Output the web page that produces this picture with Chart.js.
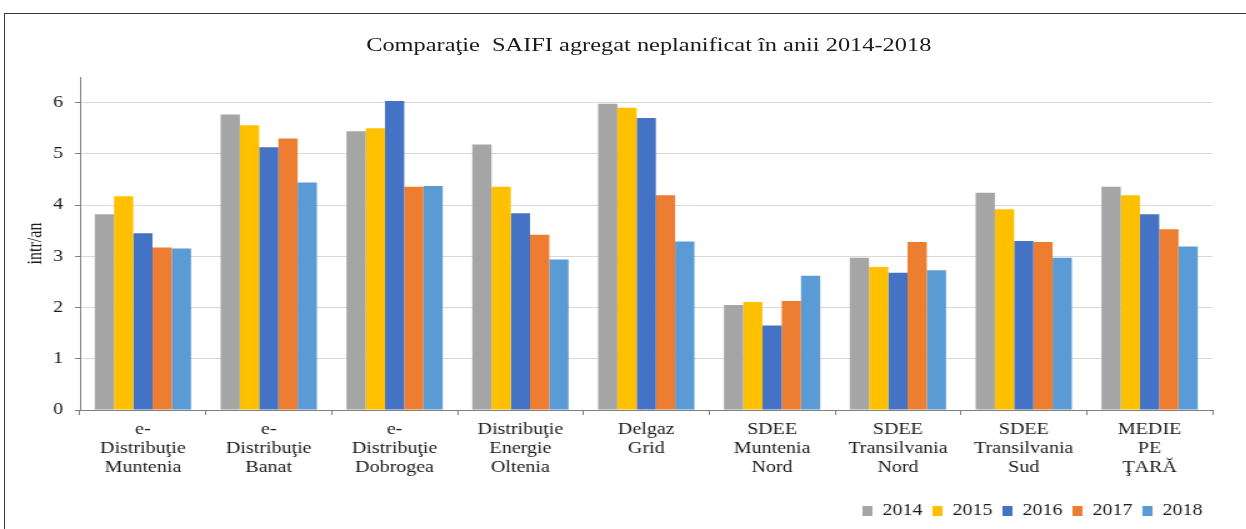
<!DOCTYPE html>
<html>
<head>
<meta charset="utf-8">
<script src="https://cdn.jsdelivr.net/npm/chart.js@4.4.1/dist/chart.umd.min.js"></script>
<style>
  html, body { margin: 0; padding: 0; background: #fff; overflow: hidden; }
  .wrap { position: relative; width: 1246px; height: 529px; overflow: hidden; }
  .frame { position: absolute; left: 4px; top: 13px; width: 1300px; height: 600px;
           border-left: 1px solid #3a3a3a; border-top: 1px solid #3a3a3a; }
  /* the source picture is stretched sideways, so draw narrow and scale out */
  .stretch { position: absolute; left: 0; top: 0; width: 997px; height: 529px;
             transform: scaleX(1.25); transform-origin: 0 0; }
  .title { position: absolute; left: 0; width: 1038px; top: 35px; text-align: center;
           font: 19.5px/1 "Liberation Serif", "Times New Roman", serif; color: #1a1a1a;
           white-space: pre; }
  canvas { position: absolute; left: 0; top: 0; }
</style>
</head>
<body>
<div class="wrap">
  <div class="frame"></div>
  <div class="stretch">
    <div class="title">Comparaţie  SAIFI agregat neplanificat în anii 2014-2018</div>
    <canvas id="chart" width="997" height="529"></canvas>
  </div>
</div>
<script>
const categories = [
  ['e-', 'Distribuţie', 'Muntenia'],
  ['e-', 'Distribuţie', 'Banat'],
  ['e-', 'Distribuţie', 'Dobrogea'],
  ['Distribuţie', 'Energie', 'Oltenia'],
  ['Delgaz', 'Grid'],
  ['SDEE', 'Muntenia', 'Nord'],
  ['SDEE', 'Transilvania', 'Nord'],
  ['SDEE', 'Transilvania', 'Sud'],
  ['MEDIE', 'PE', 'ŢARĂ']
];
const years = ['2014', '2015', '2016', '2017', '2018'];
const values2014 = [3.82, 5.77, 5.44, 5.18, 5.98, 2.05, 2.97, 4.24, 4.36];
const values2015 = [4.17, 5.56, 5.50, 4.36, 5.90, 2.11, 2.79, 3.92, 4.19];
const values2016 = [3.45, 5.13, 6.03, 3.84, 5.70, 1.65, 2.68, 3.30, 3.82];
const values2017 = [3.17, 5.30, 4.36, 3.42, 4.19, 2.13, 3.28, 3.28, 3.53];
const values2018 = [3.15, 4.44, 4.37, 2.94, 3.29, 2.62, 2.73, 2.97, 3.19];
const yTicks = [0, 1, 2, 3, 4, 5, 6];

const colors = ['#a5a5a5', '#ffc000', '#4472c4', '#ed7d31', '#5b9bd5'];
const series = [values2014, values2015, values2016, values2017, values2018];
const serif = '"Liberation Serif", "Times New Roman", serif';

new Chart(document.getElementById('chart'), {
  type: 'bar',
  data: {
    labels: categories,
    datasets: series.map((data, i) => ({
      label: years[i],
      data: data,
      backgroundColor: colors[i],
      borderWidth: 0,
      categoryPercentage: 0.765,
      barPercentage: 1.0
    }))
  },
  options: {
    responsive: false,
    animation: false,
    layout: { padding: { top: 77, left: 0, right: 27, bottom: 0 } },
    plugins: {
      legend: {
        position: 'bottom',
        align: 'end',
        labels: {
          color: '#1a1a1a',
          font: { family: serif, size: 16 },
          boxWidth: 8,
          boxHeight: 10,
          padding: 8
        }
      },
      tooltip: { enabled: false }
    },
    scales: {
      x: {
        afterFit: (axis) => { axis.height = 85; },
        grid: { display: true, drawOnChartArea: false, drawTicks: true, tickLength: 5, tickColor: '#7f7f7f' },
        border: { color: '#7f7f7f', width: 1 },
        ticks: { color: '#1a1a1a', font: { family: serif, size: 16, lineHeight: 1.19 }, padding: 5, maxRotation: 0, autoSkip: false }
      },
      y: {
        min: 0,
        max: 6.5,
        afterBuildTicks: (axis) => {
          axis.ticks = yTicks.map((v) => ({ value: v }));
        },
        afterFit: (axis) => { axis.width = 64; },
        grid: { color: '#d9d9d9', lineWidth: 1, tickLength: 4, tickColor: '#7f7f7f' },
        border: { color: '#7f7f7f', width: 1 },
        ticks: { color: '#1a1a1a', font: { family: serif, size: 16 }, padding: 9.6 },
        title: {
          display: true,
          text: 'intr/an',
          color: '#1a1a1a',
          font: { family: serif, size: 16 },
          padding: { top: 19, bottom: 0 }
        }
      }
    }
  }
});
</script>
</body>
</html>
